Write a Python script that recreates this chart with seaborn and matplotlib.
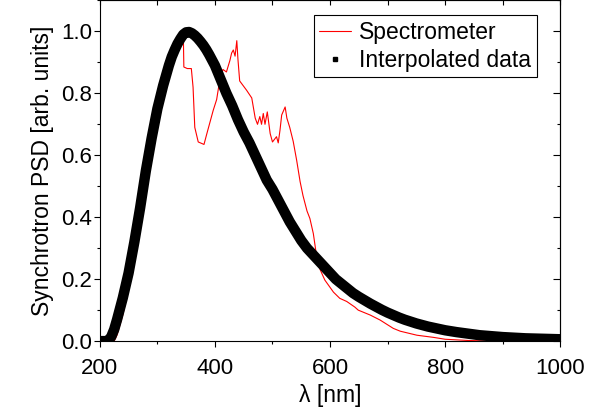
import matplotlib
matplotlib.use("Agg")
import matplotlib.pyplot as plt
from matplotlib.lines import Line2D
from matplotlib.ticker import MultipleLocator
import seaborn as sns
import pandas as pd

# interpolated (black) curve
interp_wl = [200, 210, 215, 220, 225, 230, 240, 250, 260, 270, 280, 290, 300, 310, 320, 325, 330, 335, 340,
             345, 350, 355, 360, 365, 370, 375, 380, 385, 390, 400, 410, 420, 430, 440, 450, 460, 470, 480, 490,
             500, 510, 520, 530, 540, 550, 560, 570, 580, 590, 600, 610, 620, 630, 640,
             650, 660, 670, 680, 690, 700, 710, 720, 730, 740, 750, 760, 770, 780, 790,
             800, 820, 840, 860, 880, 900, 920, 940, 960, 980, 1000]
interp_psd = [0.0, 0.0, 0.002, 0.015, 0.038, 0.07, 0.14, 0.22, 0.32, 0.43, 0.55, 0.655, 0.75, 0.825, 0.89, 0.918, 0.94, 0.96, 0.976,
              0.99, 0.997, 0.998, 0.994, 0.987, 0.978, 0.967, 0.955, 0.941, 0.925, 0.89, 0.845, 0.80, 0.76, 0.715, 0.675, 0.64, 0.60, 0.56, 0.52,
              0.49, 0.455, 0.42, 0.385, 0.355, 0.325, 0.30, 0.28, 0.26, 0.24, 0.22, 0.20, 0.185, 0.17, 0.155,
              0.143, 0.132, 0.121, 0.111, 0.101, 0.092, 0.084, 0.076, 0.069, 0.063, 0.057, 0.052, 0.047, 0.043, 0.039,
              0.035, 0.029, 0.024, 0.019, 0.016, 0.013, 0.011, 0.009, 0.008, 0.007, 0.006]

# spectrometer (red) curve
spec_wl = [200, 215, 225, 230, 240, 250, 260, 270, 280, 290, 300, 310, 320, 330, 338,
           343, 345, 346, 352, 359, 362, 365, 371, 381, 386, 397, 403, 409, 414, 420,
           426, 429, 432, 435, 438, 440, 443, 455, 464, 470, 474, 478, 481, 484, 487,
           491, 496, 500, 507, 510, 513, 516, 522, 525, 530, 536, 542, 548, 553, 560,
           565, 571, 577, 583, 591, 606, 617, 629, 643, 649, 670, 687, 710, 722, 751,
           780, 800, 840, 880]
spec_psd = [0.0, 0.0, 0.0, 0.02, 0.085, 0.17, 0.27, 0.38, 0.50, 0.61, 0.71, 0.79, 0.86, 0.92, 0.96,
            0.985, 1.0, 0.885, 0.88, 0.88, 0.82, 0.69, 0.643, 0.635, 0.67, 0.745, 0.78, 0.85, 0.877, 0.869,
            0.906, 0.93, 0.94, 0.92, 0.97, 0.91, 0.84, 0.81, 0.785, 0.72, 0.70, 0.725, 0.70, 0.735, 0.70,
            0.74, 0.67, 0.643, 0.66, 0.64, 0.68, 0.73, 0.756, 0.72, 0.69, 0.645, 0.584, 0.515, 0.47, 0.42,
            0.396, 0.347, 0.27, 0.23, 0.197, 0.158, 0.138, 0.128, 0.11, 0.10, 0.084, 0.068, 0.041, 0.032, 0.019,
            0.012, 0.006, 0.002, 0.0]

sns.set_style("ticks")
plt.rcParams['font.family'] = ['Liberation Sans', 'DejaVu Sans']
plt.rcParams['text.color'] = 'black'
plt.rcParams['axes.labelcolor'] = 'black'
plt.rcParams['xtick.color'] = 'black'
plt.rcParams['ytick.color'] = 'black'

df_interp = pd.DataFrame({"wl": interp_wl, "psd": interp_psd})
df_spec = pd.DataFrame({"wl": spec_wl, "psd": spec_psd})

fig = plt.figure(figsize=(6.05, 4.17), dpi=100)
ax = fig.add_axes([0.165, 0.182, 0.761, 0.817])

sns.lineplot(data=df_spec, x="wl", y="psd", ax=ax, color="red", linewidth=0.8, zorder=1)
sns.lineplot(data=df_interp, x="wl", y="psd", ax=ax, color="black", linewidth=7.5,
             solid_joinstyle='round', solid_capstyle='butt', zorder=2)

ax.set_xlim(200, 1000)
ax.set_ylim(0, 1.1)
ax.xaxis.set_major_locator(MultipleLocator(200))
ax.xaxis.set_minor_locator(MultipleLocator(100))
ax.yaxis.set_major_locator(MultipleLocator(0.2))
ax.yaxis.set_minor_locator(MultipleLocator(0.1))
ax.yaxis.set_major_formatter(plt.FormatStrFormatter('%.1f'))
ax.tick_params(which='major', direction='out', length=4, width=0.8, labelsize=16,
               color='black', labelcolor='black')
ax.tick_params(which='minor', direction='out', length=2.4, width=0.8, color='black')
ax.tick_params(axis='x', which='major', pad=8.5)
ax.tick_params(axis='y', which='major', pad=1.5)

# top / right axes carry inward ticks without labels
top = ax.secondary_xaxis('top')
top.xaxis.set_major_locator(MultipleLocator(200))
top.xaxis.set_minor_locator(MultipleLocator(100))
top.tick_params(which='both', direction='in', length=3.6, width=0.8, labeltop=False)
right = ax.secondary_yaxis('right')
right.yaxis.set_major_locator(MultipleLocator(0.2))
right.yaxis.set_minor_locator(MultipleLocator(0.1))
right.tick_params(which='major', direction='in', length=5, width=0.8, labelright=False)
right.tick_params(which='minor', direction='in', length=2.4, width=0.8, labelright=False)

for side in ['left', 'bottom', 'top', 'right']:
    ax.spines[side].set_visible(True)
    ax.spines[side].set_linewidth(0.8)
    ax.spines[side].set_color('black')

ax.set_xlabel("λ [nm]", fontsize=16.5, labelpad=3, color='black')
ax.set_ylabel("Synchrotron PSD [arb. units]", fontsize=16.5, labelpad=5, color='black')

handles = [Line2D([], [], color='red', linewidth=0.8),
           Line2D([], [], color='black', linestyle='none', marker='s', markersize=3)]
leg = ax.legend(handles, ["Spectrometer", "Interpolated data"], loc='upper right',
                bbox_to_anchor=(0.95, 0.956), borderaxespad=0, fancybox=False,
                edgecolor='black', framealpha=1, fontsize=16.5, handlelength=1.4,
                handletextpad=0.35, labelspacing=0.2, borderpad=0.25)
leg.get_frame().set_linewidth(0.8)

fig.savefig("out.png", dpi=100)
